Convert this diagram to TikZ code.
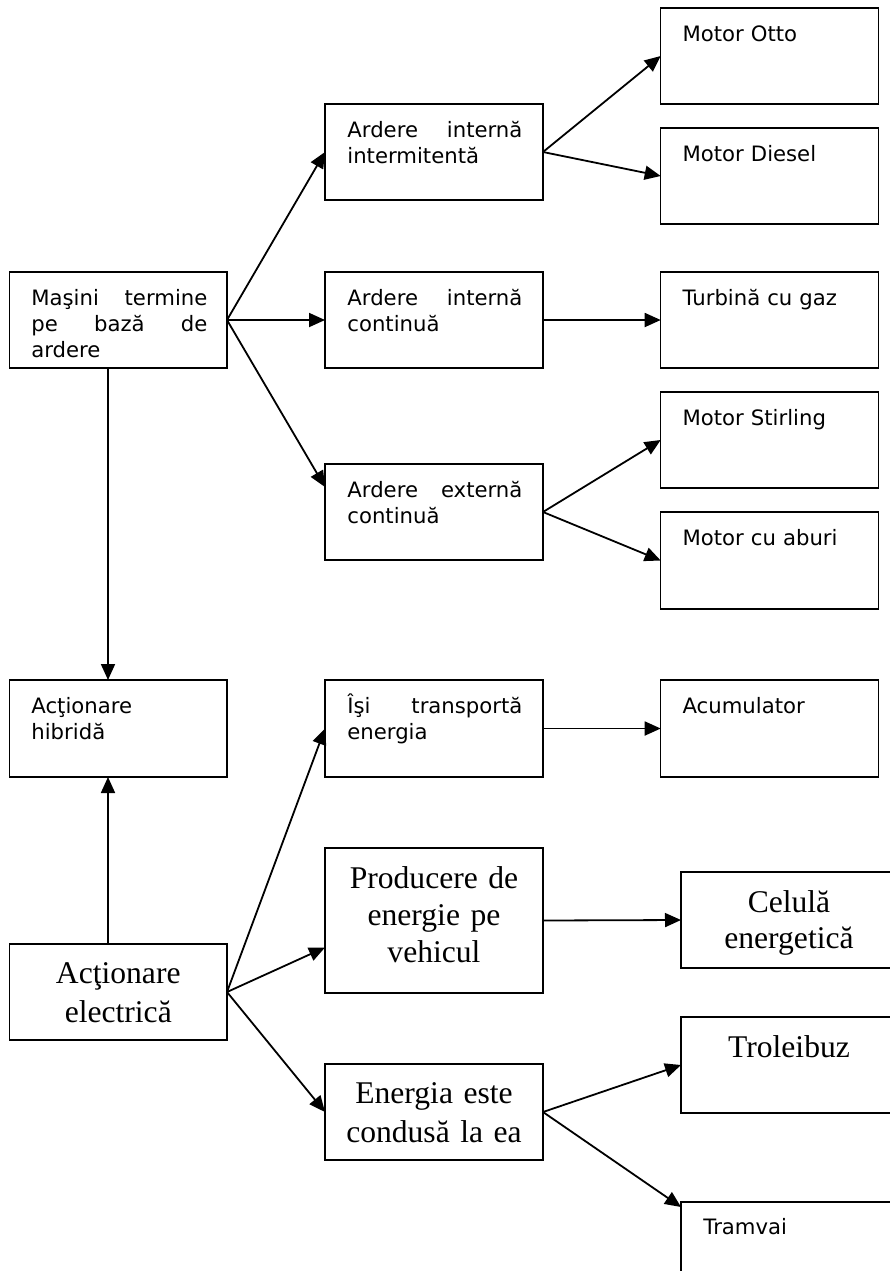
\documentclass[tikz,border=0pt]{standalone}
\usepackage{fontspec}
\usetikzlibrary{arrows.meta,calc}
\newfontfamily\verdfont{DejaVu Sans}
\newfontfamily\romfont{Liberation Serif}
\begin{document}
\begin{tikzpicture}[x=0.5pt,y=-0.5pt,
  box/.style={draw, line width=0.75pt, inner sep=0pt, outer sep=0pt, anchor=north west, minimum height=48pt},
  sanslbl/.style={font=\verdfont\fontsize{10.6pt}{13pt}\selectfont, inner sep=0pt, anchor=base west, text width=95pt, align=left},
  romlbl/.style={font=\romfont\fontsize{15.8pt}{18.5pt}\selectfont, inner sep=0pt, anchor=base, text width=106pt, align=center},
  arr/.style={line width=0.9pt, -{Triangle[length=8pt,width=7pt]}}
]
\useasboundingbox (0,0) rectangle (890,1271);
\clip (0,0) rectangle (890,1271);

% left column
\node[box, minimum width=108.75pt] (m)   at (9.5,272) {};
\node[box, minimum width=108.75pt, minimum height=48.5pt] (hib) at (9.5,680) {};
\node[box, minimum width=108.75pt] (el)  at (9.5,944) {};

% middle column
\node[box, minimum width=109pt] (aii)  at (325,104) {};
\node[box, minimum width=109pt] (aic)  at (325,272) {};
\node[box, minimum width=109pt] (aec)  at (325,464) {};
\node[box, minimum width=109pt, minimum height=48.5pt] (isi)  at (325,680) {};
\node[box, minimum width=109pt, minimum height=72.5pt] (prod) at (325,848) {};
\node[box, minimum width=109pt] (en)   at (325,1064) {};

% right column
\node[box, minimum width=109pt] (otto)   at (660.7,8) {};
\node[box, minimum width=109pt] (diesel) at (660.7,128) {};
\node[box, minimum width=109pt] (turb)   at (660.7,272) {};
\node[box, minimum width=109pt] (stir)   at (660.7,392) {};
\node[box, minimum width=109pt, minimum height=48.5pt] (abur) at (660.7,512) {};
\node[box, minimum width=109pt, minimum height=48.5pt] (acum) at (660.7,680) {};
\node[box, minimum width=108pt] (cel)    at (681,872) {};
\node[box, minimum width=108pt] (trol)   at (681,1017) {};
\node[box, minimum width=108pt, minimum height=60pt] (tram) at (681,1202) {};

% labels
\node[sanslbl, text width=88pt] (tm) at ($(m.north west)+(21.5,33)$) {Maşini\hfill termine\\pe\hfill bază\hfill de\\ardere};
\node[sanslbl] (thib) at ($(hib.north west)+(21.5,33)$) {Acţionare\\hibridă};
\node[romlbl, font=\romfont\fontsize{15.8pt}{19.5pt}\selectfont] (tel) at ($(el.north)+(0,39)$) {Acţionare\\electrică};

\node[sanslbl, text width=87.5pt] (taii) at ($(aii.north west)+(22,33)$) {Ardere\hfill internă\\intermitentă};
\node[sanslbl, text width=87.5pt] (taic) at ($(aic.north west)+(22,33)$) {Ardere\hfill internă\\continuă};
\node[sanslbl, text width=87.5pt] (taec) at ($(aec.north west)+(22,33)$) {Ardere\hfill externă\\continuă};
\node[sanslbl, text width=87.5pt] (tisi) at ($(isi.north west)+(22,33)$) {Îşi\hfill transportă\\energia};
\node[romlbl] (tprod) at ($(prod.north)+(0,40)$) {Producere de\\energie pe\\vehicul};
\node[romlbl, font=\romfont\fontsize{15.8pt}{19.5pt}\selectfont] (ten) at ($(en.north)+(0,39)$) {Energia este\\condusă la ea};

\node[sanslbl] (totto) at ($(otto.north west)+(21.5,33.5)$) {Motor Otto};
\node[sanslbl] (tdie)  at ($(diesel.north west)+(21.5,33.5)$) {Motor Diesel};
\node[sanslbl] (tturb) at ($(turb.north west)+(21.5,33)$) {Turbină cu gaz};
\node[sanslbl] (tstir) at ($(stir.north west)+(21.5,33)$) {Motor Stirling};
\node[sanslbl] (tabur) at ($(abur.north west)+(21.5,33)$) {Motor cu aburi};
\node[sanslbl] (tacum) at ($(acum.north west)+(21.5,33)$) {Acumulator};
\node[romlbl, font=\romfont\fontsize{15.8pt}{18pt}\selectfont] (tcel) at ($(cel.north)+(0,40)$) {Celulă\\energetică};
\node[romlbl] (ttrol) at ($(trol.north)+(0,40)$) {Troleibuz};
\node[sanslbl] (ttram) at ($(tram.north west)+(22,32)$) {Tramvai};

% connectors
\draw[arr] (m.east) -- (aii.west);
\draw[arr] (m.east) -- (aic.west);
\draw[arr] (m.east) -- ($(aec.north west)+(0,23)$);
\draw[arr] (aii.east) -- (otto.west);
\draw[arr] (aii.east) -- (diesel.west);
\draw[arr] (aic.east) -- (turb.west);
\draw[arr] (aec.east) -- (stir.west);
\draw[arr] (aec.east) -- (abur.west);
\draw[arr] ($(m.south west)+(98.5,0)$) -- ($(hib.north west)+(98.5,0)$);
\draw[arr] ($(el.north west)+(98.5,0)$) -- ($(hib.south west)+(98.5,0)$);
\draw[arr] (el.east) -- (isi.west);
\draw[arr] (el.east) -- ($(prod.west)+(0,27)$);
\draw[arr] (el.east) -- (en.west);
\draw[arr] (isi.east) -- (acum.west);
\draw[arr] (prod.east) -- (cel.west);
\draw[arr] (en.east) -- (trol.west);
\draw[arr] (en.east) -- ($(tram.north west)+(0,5)$);
\end{tikzpicture}
\end{document}
